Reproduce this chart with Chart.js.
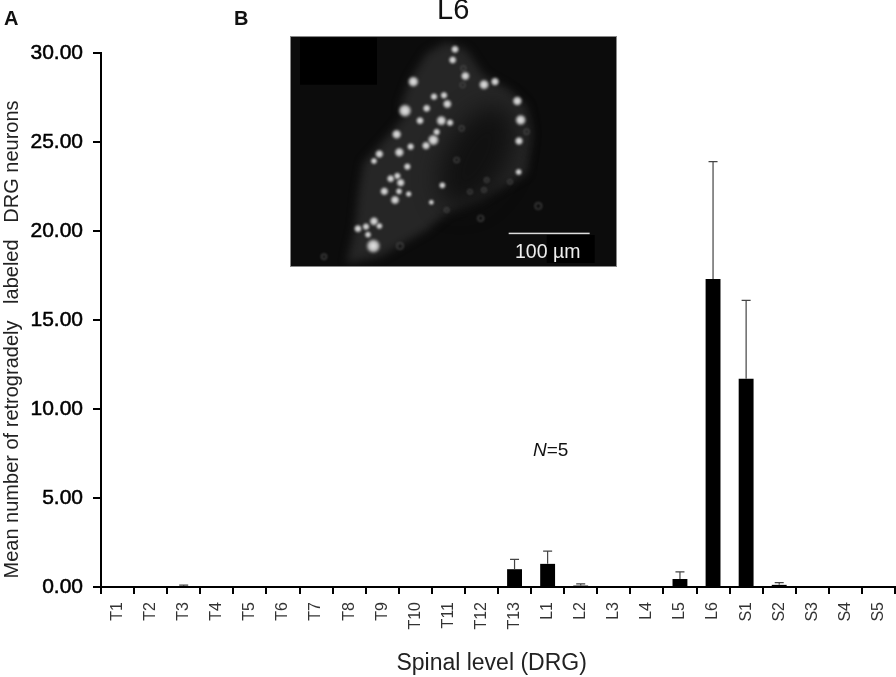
<!DOCTYPE html>
<html>
<head>
<meta charset="utf-8">
<title>Spinal level (DRG)</title>
<script src="https://cdn.jsdelivr.net/npm/chart.js@4"></script>
<style>
  html, body { margin: 0; padding: 0; background: #fff; }
  body { position: relative; width: 896px; height: 677px; overflow: hidden; font-family: "Liberation Sans", Arial, sans-serif; color: #111; }
  #chart { position: absolute; left: 0; top: 0; }
  #micro { position: absolute; left: 290px; top: 36px; }
  .txt { position: absolute; white-space: nowrap; line-height: 1; }
</style>
</head>
<body>
<canvas id="chart" width="896" height="677"></canvas>
<canvas id="micro" width="327" height="231"></canvas>
<div class="txt" style="left:4px;top:8px;font-size:20px;font-weight:bold">A</div>
<div class="txt" style="left:234px;top:8px;font-size:20px;font-weight:bold">B</div>
<div class="txt" style="left:437px;top:-5px;font-size:29px">L6</div>
<div class="txt" style="left:533px;top:440px;font-size:19px"><i>N</i>=5</div>
<div class="txt" style="left:515px;top:242px;font-size:19.5px;color:#eee">100 µm</div>
<script>
const LEVELS = ["T1", "T2", "T3", "T4", "T5", "T6", "T7", "T8", "T9", "T10", "T11", "T12", "T13",
  "L1", "L2", "L3", "L4", "L5", "L6", "S1", "S2", "S3", "S4", "S5"];
const MEANS = [0, 0, 0.05, 0, 0, 0, 0, 0, 0, 0, 0, 0, 1.0,
  1.3, 0.08, 0, 0, 0.45, 17.3, 11.7, 0.12, 0, 0, 0];
const ERROR_TOPS = [0, 0, 0.1, 0, 0, 0, 0, 0, 0, 0, 0, 0, 1.55,
  2.02, 0.18, 0, 0, 0.85, 23.9, 16.1, 0.25, 0, 0, 0];
const Y_TICKS = [0, 5, 10, 15, 20, 25, 30];

// upper error whiskers, placed with the chart's own scales
const errorBars = {
  id: "errorBars",
  afterDatasetsDraw(chart) {
    const { ctx, scales: { x, y } } = chart;
    ctx.save();
    ctx.strokeStyle = "#444";
    ctx.lineWidth = 1.2;
    ERROR_TOPS.forEach((top, i) => {
      if (top <= MEANS[i]) return;
      const px = x.getPixelForValue(i);
      ctx.beginPath();
      ctx.moveTo(px, y.getPixelForValue(MEANS[i]));
      ctx.lineTo(px, y.getPixelForValue(top));
      ctx.moveTo(px - 4.5, y.getPixelForValue(top));
      ctx.lineTo(px + 4.5, y.getPixelForValue(top));
      ctx.stroke();
    });
    ctx.restore();
  },
};

new Chart(document.getElementById("chart"), {
  type: "bar",
  data: {
    labels: LEVELS,
    datasets: [{ data: MEANS, backgroundColor: "#000", barPercentage: 0.45, categoryPercentage: 1 }],
  },
  plugins: [errorBars],
  options: {
    responsive: false,
    animation: false,
    layout: { padding: { top: 53, right: 1, left: 0, bottom: 0 } },
    plugins: { legend: { display: false }, tooltip: { enabled: false } },
    scales: {
      x: {
        afterFit(scale) {
          scale.height = 90;
          scale.paddingLeft = 0;
          scale.paddingRight = 0;
        },
        grid: { offset: true, drawOnChartArea: false, color: "#000", lineWidth: 2, tickLength: 7 },
        border: { color: "#000", width: 2 },
        ticks: {
          color: "#333",
          font: { family: "Liberation Sans", size: 16 },
          minRotation: 90,
          maxRotation: 90,
          padding: 8,
          autoSkip: false,
        },
        title: {
          display: true,
          text: "Spinal level (DRG)  ",
          color: "#222",
          font: { family: "Liberation Sans", size: 23 },
          padding: { top: 0, bottom: 0 },
        },
      },
      y: {
        min: 0,
        max: 30,
        afterFit(scale) { scale.width = 101; },
        afterBuildTicks(scale) { scale.ticks = Y_TICKS.map((value) => ({ value })); },
        grid: { drawOnChartArea: false, color: "#000", lineWidth: 2, tickLength: 8 },
        border: { color: "#000", width: 2 },
        ticks: {
          color: "#000",
          font: { family: "Liberation Sans", size: 21 },
          padding: 10,
          textStrokeColor: "#000",
          textStrokeWidth: 0.5,
          callback: (v) => v.toFixed(2),
        },
        title: {
          display: true,
          text: "Mean number of retrogradely   labeled   DRG neurons       ",
          color: "#222",
          font: { family: "Liberation Sans", size: 20 },
          padding: { top: 0, bottom: 0 },
        },
      },
    },
  },
});

// inset micrograph (panel B), sketched in 3x crop coordinates
const TISSUE = [[500, 125], [560, 150], [610, 225], [690, 270], [740, 320], [755, 400], [740, 520],
  [690, 550], [600, 600], [500, 640], [440, 690], [300, 770], [200, 790], [225, 680], [235, 580],
  [250, 490], [330, 400], [380, 340], [360, 320], [390, 240], [440, 160]];
const CELLS = [[400, 245, 13], [375, 332, 17], [525, 148, 8], [518, 180, 8], [556, 228, 10], [612, 254, 12],
  [645, 245, 9], [712, 303, 11], [722, 360, 13], [717, 423, 9], [502, 312, 10], [484, 362, 12], [440, 325, 8],
  [462, 290, 7], [492, 286, 7], [510, 368, 7], [420, 362, 8], [460, 420, 14], [438, 437, 9], [470, 396, 7],
  [350, 403, 11], [358, 457, 11], [392, 440, 7], [298, 462, 9], [382, 500, 7], [282, 483, 6], [352, 528, 7],
  [332, 536, 8], [362, 548, 9], [313, 574, 9], [345, 600, 10], [357, 574, 6], [386, 582, 5], [454, 607, 4],
  [487, 556, 6], [716, 516, 6], [282, 664, 10], [234, 686, 8], [258, 680, 7], [298, 678, 6],
  [264, 704, 6], [280, 738, 19]];
const DIM_CELLS = [[602, 655, 7], [612, 570, 5], [570, 575, 5], [775, 618, 8], [545, 385, 6], [548, 255, 6],
  [550, 205, 6], [740, 395, 6], [500, 630, 5], [620, 540, 5], [690, 545, 5], [530, 480, 6], [360, 738, 8], [132, 770, 6]];

function drawMicrograph() {
  const ctx = document.getElementById("micro").getContext("2d");
  const px = (v) => (v - 30) / 3;
  const py = (v) => (v - 108) / 3;
  ctx.fillStyle = "#0c0c0c";
  ctx.fillRect(0, 0, 327, 231);
  ctx.fillStyle = "#000";
  ctx.fillRect(px(60), py(113), 77, 47);
  ctx.fillRect(px(800), py(705), 48, 28);

  ctx.save();
  ctx.filter = "blur(4px)";
  ctx.fillStyle = "#262626";
  ctx.beginPath();
  TISSUE.forEach(([x, y], i) => (i ? ctx.lineTo(px(x), py(y)) : ctx.moveTo(px(x), py(y))));
  ctx.closePath();
  ctx.fill();
  // darker middle and lower side of the ganglion
  ctx.filter = "blur(12px)";
  ctx.fillStyle = "#111";
  ctx.beginPath();
  ctx.ellipse(px(590), py(470), 30, 55, 0.5, 0, Math.PI * 2);
  ctx.fill();
  ctx.restore();

  ctx.save();
  ctx.filter = "blur(1px)";
  DIM_CELLS.forEach(([x, y, r]) => {
    ctx.strokeStyle = "#4a4a4a";
    ctx.lineWidth = 1.2;
    ctx.beginPath();
    ctx.arc(px(x), py(y), r / 3 + 0.5, 0, Math.PI * 2);
    ctx.stroke();
  });
  CELLS.forEach(([x, y, r]) => {
    const rad = r / 3 + 2;
    const g = ctx.createRadialGradient(px(x), py(y), 0, px(x), py(y), rad);
    g.addColorStop(0, "#e8e8e8");
    g.addColorStop(0.55, "#b8b8b8");
    g.addColorStop(1, "rgba(110,110,110,0)");
    ctx.fillStyle = g;
    ctx.beginPath();
    ctx.arc(px(x), py(y), rad, 0, Math.PI * 2);
    ctx.fill();
  });
  ctx.restore();

  // scale bar
  ctx.fillStyle = "#ddd";
  ctx.fillRect(px(686), py(698), 81, 1.5);
  // frame
  ctx.strokeStyle = "#888";
  ctx.strokeRect(0.5, 0.5, 326, 230);
}
drawMicrograph();
</script>
</body>
</html>
